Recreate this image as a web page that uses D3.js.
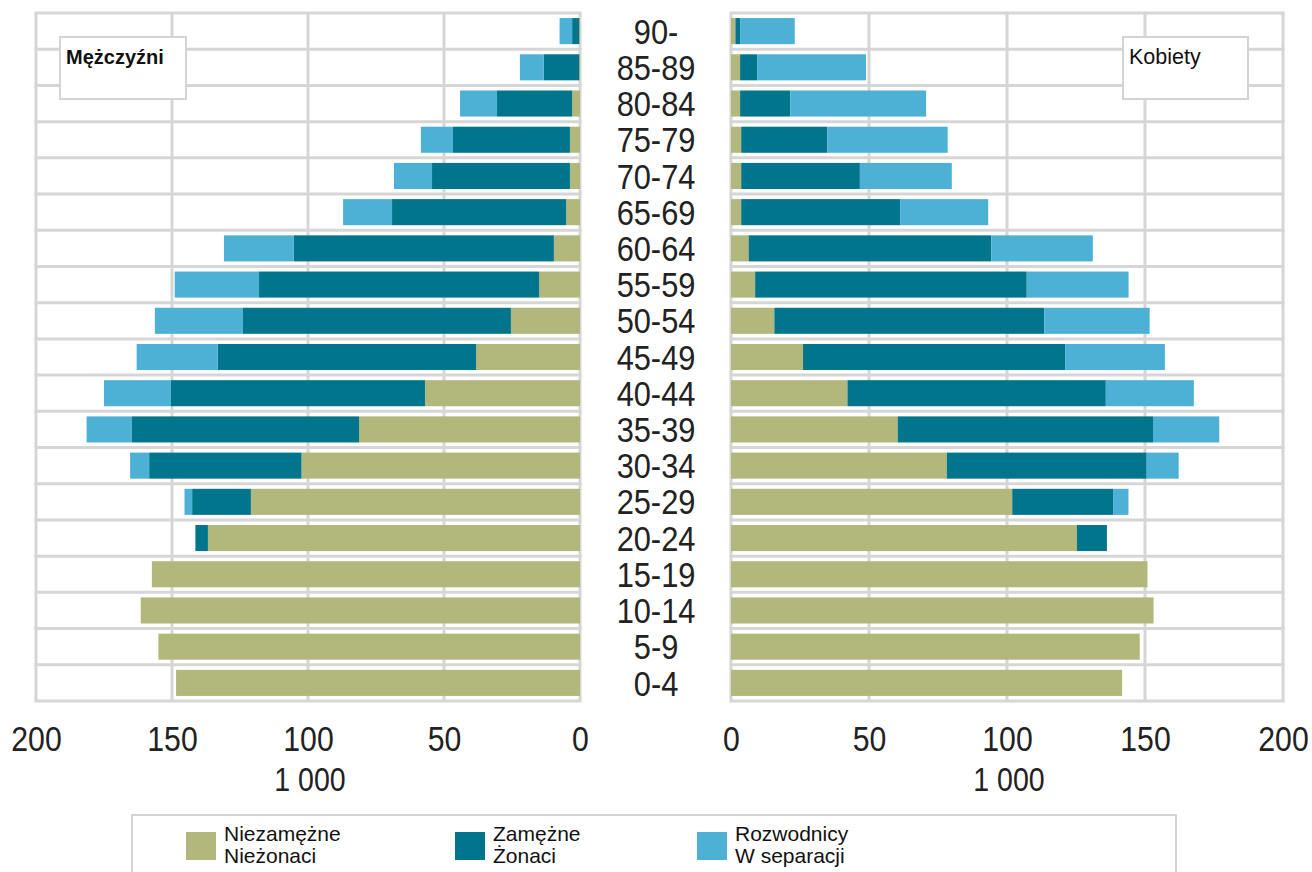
<!DOCTYPE html>
<html><head><meta charset="utf-8">
<script src="https://cdn.jsdelivr.net/npm/d3@7"></script>
<style>body{margin:0;background:#fff}svg{display:block}</style></head>
<body><svg id="c" width="1312" height="872"></svg>
<script>
// ---- data (thousands) ----
const ageGroups = ["0-4","5-9","10-14","15-19","20-24","25-29","30-34","35-39","40-44","45-49","50-54","55-59","60-64","65-69","70-74","75-79","80-84","85-89","90-"];
const menSingle   = [148.5,155,161.5,157.4,136.8,121,102.4,81.2,57,38.2,25.4,15,9.6,5.1,3.7,3.7,2.9,0.3,0.3];
const menMarried  = [0,0,0,0,4.6,21.6,56,83.5,93.4,95,98.5,103,95.6,64,50.7,43,27.6,13,2.6];
const menDivorced = [0,0,0,0,0,2.8,7,16.7,24.6,29.8,32.4,31,25.7,18,14,11.8,13.6,8.8,4.6];
const womenSingle   = [141.7,148.1,153.1,150.9,125.3,101.9,78.2,60.4,42.2,26.1,15.7,8.75,6.4,3.7,3.7,3.7,3.3,3.3,1.6];
const womenMarried  = [0,0,0,0,10.9,36.7,72.4,92.5,93.6,95.1,97.8,98.4,87.9,57.6,43,31.2,18.2,6.2,1.7];
const womenDivorced = [0,0,0,0,0,5.4,11.6,24,31.9,36,38.2,36.9,36.8,31.9,33.3,43.6,49.2,39.4,19.8];
const tickValues = [0,50,100,150,200];
const unitLabel = "1 000";
const panelTitles = ["Mężczyźni","Kobiety"];
const seriesKeys = ["single","married","divorced"];
const legendLines = [["Niezamężne","Nieżonaci"],["Zamężne","Żonaci"],["Rozwodnicy","W separacji"]];
const colors = ["#b2b77b","#00758c","#4cb1d4"];

// ---- layout ----
const svg = d3.select("#c");
const plotTop = 13, plotBottom = 701;
const rows = d3.scaleBand().domain(ageGroups.slice().reverse()).range([plotTop,plotBottom]).padding(0);
const yb = d3.scaleBand().domain(rows.domain()).range([plotTop,plotBottom]).paddingInner(0.28).paddingOuter(0.14);
const xL = d3.scaleLinear().domain([0,200]).range([580,36]);
const xR = d3.scaleLinear().domain([0,200]).range([731,1283]);
const color = d3.scaleOrdinal().domain(seriesKeys).range(colors);
const NARROW = "scale(0.84,1)";
const FONT = "'Liberation Sans', Arial, sans-serif";

function table(s,m,d){ return ageGroups.map((a,i)=>({age:a,single:s[i],married:m[i],divorced:d[i]})); }
const stack = d3.stack().keys(seriesKeys);
const panels = [
  {x:xL, data:stack(table(menSingle,menMarried,menDivorced))},
  {x:xR, data:stack(table(womenSingle,womenMarried,womenDivorced))}
];

const grid = svg.append("g").attr("stroke","#d6d6d6").attr("stroke-width",3);
panels.forEach(p=>{
  const [x0,x1] = [p.x(0),p.x(200)].sort((a,b)=>a-b);
  const bounds = rows.domain().map(a=>rows(a)).concat([plotBottom]);
  grid.append("g").selectAll("line").data(bounds).join("line")
    .attr("x1",x0-1.5).attr("x2",x1+1.5).attr("y1",d=>d).attr("y2",d=>d);
  grid.append("g").selectAll("line").data(tickValues).join("line")
    .attr("x1",d=>p.x(d)).attr("x2",d=>p.x(d)).attr("y1",plotTop).attr("y2",plotBottom);
});

// bars
panels.forEach(p=>{
  const g = svg.append("g");
  g.selectAll("g").data(p.data).join("g").attr("fill",d=>color(d.key))
    .selectAll("rect").data(d=>d).join("rect")
    .attr("x",d=>Math.min(p.x(d[0]),p.x(d[1])))
    .attr("width",d=>Math.abs(p.x(d[1])-p.x(d[0])))
    .attr("y",d=>yb(d.data.age)).attr("height",yb.bandwidth());
});

// panel title boxes
const boxes = [{x:60,w:126,title:panelTitles[0],bold:true,size:20},{x:1123,w:125,title:panelTitles[1],bold:false,size:21.5}];
boxes.forEach(b=>{
  svg.append("rect").attr("x",b.x).attr("y",37).attr("width",b.w).attr("height",62)
    .attr("fill","#fff").attr("stroke","#d4d4d4").attr("stroke-width",2);
  svg.append("text").attr("x",b.x+6).attr("y",64).text(b.title)
    .attr("font-family",FONT).attr("font-size",b.size).attr("font-weight",b.bold?"bold":"normal").attr("fill","#111");
});

// age labels
svg.append("g").selectAll("text").data(ageGroups).join("text")
  .attr("transform",d=>`translate(656,${rows(d)+rows.bandwidth()/2}) scale(0.88,1)`)
  .attr("text-anchor","middle").attr("dy","0.36em")
  .attr("font-family",FONT).attr("font-size",35).attr("fill","#222").text(d=>d);

// x axes
panels.forEach(p=>{
  const ax = svg.append("g").attr("transform",`translate(0,${plotBottom+24})`)
    .call(d3.axisBottom(p.x).tickValues(tickValues).tickSize(0).tickPadding(0));
  ax.select(".domain").remove();
  ax.selectAll("text").attr("y",0).attr("dy","0.71em").attr("transform",NARROW)
    .attr("font-family",FONT).attr("font-size",36).attr("fill","#222");
  svg.append("text").attr("transform",`translate(${p.x(100)+2},791) ${NARROW}`)
    .attr("text-anchor","middle").attr("font-family",FONT).attr("font-size",34).attr("fill","#222").text(unitLabel);
});

// legend
svg.append("rect").attr("x",132).attr("y",815).attr("width",1044).attr("height",80)
  .attr("fill","#fff").attr("stroke","#d4d4d4").attr("stroke-width",2);
const legX = [186,455,697];
seriesKeys.forEach((k,i)=>{
  const g = svg.append("g").attr("transform",`translate(${legX[i]},0)`);
  g.append("rect").attr("x",0).attr("y",832).attr("width",30).attr("height",28).attr("fill",color(k));
  g.selectAll("text").data(legendLines[i]).join("text")
    .attr("x",38).attr("y",(d,j)=>841+j*22).text(d=>d)
    .attr("font-family",FONT).attr("font-size",21).attr("fill","#111");
});
</script></body></html>
